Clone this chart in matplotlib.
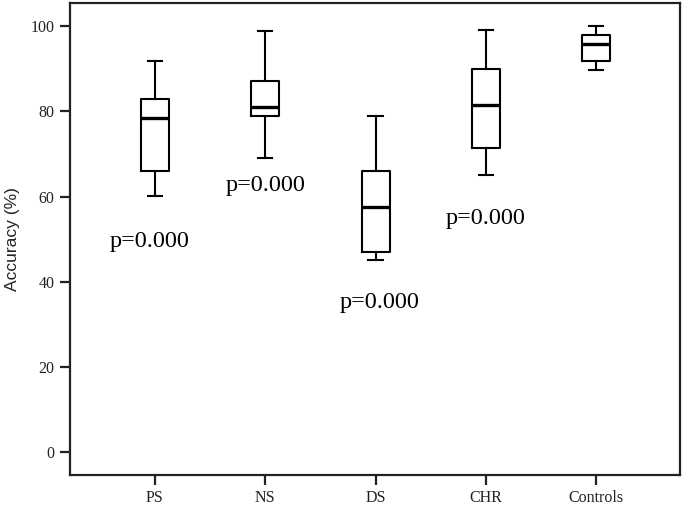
import matplotlib
matplotlib.use("Agg")
import matplotlib.pyplot as plt

categories = ["PS", "NS", "DS", "CHR", "Controls"]
whisker_low = [60.1, 69.0, 45.1, 65.0, 89.8]
q1 = [66.1, 78.8, 47.1, 71.5, 91.9]
median = [78.5, 80.9, 57.6, 81.4, 95.9]
q3 = [83.0, 87.0, 66.0, 89.9, 98.0]
whisker_high = [91.9, 98.9, 78.9, 99.0, 100.0]

p_labels = ["p=0.000", "p=0.000", "p=0.000", "p=0.000"]
p_x = [0.95, 2.0, 3.04, 4.0]
p_y = [48.2, 61.4, 33.8, 53.6]

yticks = [0, 20, 40, 60, 80, 100]

fig = plt.figure(figsize=(6.85, 5.05), dpi=100)
ax = fig.add_axes([70/685, 30/505, 610/685, 472/505])

stats = []
for i, c in enumerate(categories):
    stats.append(dict(label=c, whislo=whisker_low[i], q1=q1[i], med=median[i],
                      q3=q3[i], whishi=whisker_high[i], fliers=[]))

ax.bxp(stats, positions=range(1, len(categories) + 1), widths=0.254,
       capwidths=0.13, showfliers=False,
       boxprops=dict(color="black", linewidth=1.5),
       whiskerprops=dict(color="black", linewidth=1.5),
       capprops=dict(color="black", linewidth=1.5),
       medianprops=dict(color="black", linewidth=2.4))

for lab, x, y in zip(p_labels, p_x, p_y):
    ax.text(x, y, lab, ha="center", va="baseline", fontsize=17.5,
            family="Liberation Serif", color="black")

ax.set_xlim(1 - 0.77, 5 + 0.76)
ax.set_ylim(-5.3, 105.4)
ax.set_yticks(yticks)
ax.set_yticklabels([str(t) for t in yticks])
ax.set_xticks(range(1, len(categories) + 1))
ax.set_xticklabels(categories)

for lbl in ax.get_xticklabels() + ax.get_yticklabels():
    lbl.set_family("Liberation Serif")
    lbl.set_fontsize(11.5)
    lbl.set_color("#222222")

ax.tick_params(axis="both", direction="out", length=7, width=1.6, color="#222222", pad=4)
for s in ax.spines.values():
    s.set_linewidth(1.6)
    s.set_color("#222222")

ax.set_ylabel("Accuracy (%)", family="Liberation Sans", fontsize=12.5, color="#222222")
ax.yaxis.set_label_coords(-0.082, 0.5)

fig.savefig("out.png", dpi=100)
